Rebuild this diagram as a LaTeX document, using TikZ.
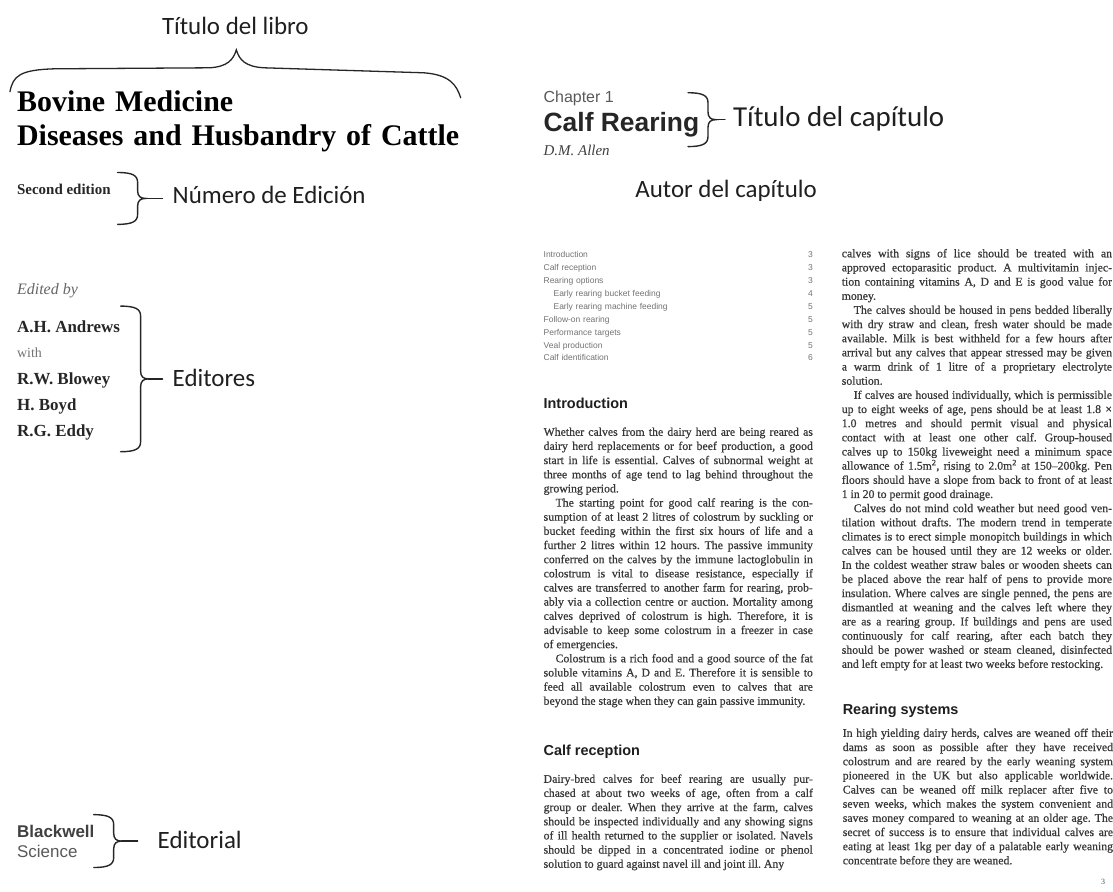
\documentclass[tikz,border=0pt]{standalone}
\usepackage{fontspec}
\setmainfont{Liberation Serif}
\setsansfont{Liberation Sans}
\newfontfamily\callfont{Carlito}
\newfontfamily\scanfont{Liberation Serif}[FakeBold=0.6]
\usetikzlibrary{calc}
\tolerance=10000
\hbadness=10000
\frenchspacing
\newcommand{\brk}{\linebreak}
% right-pointing brace: body x, top y, bottom y, name of tip
\newcommand{\sbrace}[4]{%
  \pgfmathsetmacro{\bmid}{(#2+#3)/2}
  \draw[brc] (#1-20,#2) .. controls (#1-5,#2) and (#1,#2-3) .. (#1,#2-10)
    -- (#1,\bmid+8) .. controls (#1,\bmid+2) and (#1+3,\bmid) .. (#1+8,\bmid) coordinate (#4)
    .. controls (#1+3,\bmid) and (#1,\bmid-2) .. (#1,\bmid-8)
    -- (#1,#3+10) .. controls (#1,#3+3) and (#1-5,#3) .. (#1-20,#3);}
\tikzset{
  lbl/.style={anchor=base west,inner sep=0pt,font=\callfont\fontsize{25}{30}\selectfont,text=black!88},
  brc/.style={line width=1.4pt,draw=black!85,line cap=round},
  body/.style={anchor=base west,inner sep=0pt,text width=270pt,align=justify,font=\scanfont\fontsize{11.8}{14.2}\selectfont,text=black!78},
  hd/.style={anchor=base west,inner sep=0pt,font=\sffamily\bfseries\fontsize{14.5}{17}\selectfont,text=black!88},
  nm/.style={anchor=base west,inner sep=0pt,font=\bfseries\fontsize{17}{20}\selectfont,text=black!85},
  toc/.style={anchor=base west,inner sep=0pt,text width=270pt,font=\sffamily\fontsize{8.5}{13}\selectfont,text=black!55},
}
\begin{document}
\begin{tikzpicture}[x=1pt,y=1pt]
  \path[fill=white] (0,0) rectangle (1113,-894);
  % left page: book
  \node[lbl,anchor=base] (tlib) at (236,-35) {Título del libro};
  \draw[brc,line width=1.3pt] (10,-92) .. controls (13,-76) and (20,-70) .. (55,-69) -- (210,-68)
    .. controls (228,-67) and (234,-60) .. (237,-50) coordinate (ttip)
    .. controls (240,-60) and (246,-67) .. (265,-68) -- (425,-73)
    .. controls (452,-75) and (458,-86) .. (462,-98);
  \node[anchor=base west,inner sep=0pt,text width=480pt,align=left,font=\bfseries\fontsize{30}{34}\selectfont] (book) at (17,-112)
    {Bovine Medicine\\Diseases and Husbandry of Cattle};
  \node[nm,font=\bfseries\fontsize{15}{18}\selectfont] (sed) at (17,-195) {Second edition};
  \sbrace{138}{-173}{-225}{etip}
  \node[lbl] (ned) at (173,-204) {Número de Edición};
  \draw[brc,shorten >=10pt] (etip) -- (etip -| ned.west);
  \node[anchor=base west,inner sep=0pt,font=\itshape\fontsize{16}{19}\selectfont,text=black!60] (edby) at (17,-295) {Edited by};
  \node[nm] (aha) at (17,-333) {A.H. Andrews};
  \node[anchor=base west,inner sep=0pt,font=\fontsize{14}{16}\selectfont,text=black!55] (with) at (17,-359) {with};
  \node[nm] (rwb) at (17,-386) {R.W. Blowey};
  \node[nm] (hb) at (17,-412) {H. Boyd};
  \node[nm] (rge) at (17,-438) {R.G. Eddy};
  \sbrace{141}{-307}{-453}{edtip}
  \node[lbl] (edit) at (173,-388) {Editores};
  \draw[brc,shorten >=10pt] (edtip) -- (edtip -| edit.west);
  \node[anchor=base west,inner sep=0pt,font=\sffamily\bfseries\fontsize{17}{20}\selectfont,text=black!75] (bw) at (17,-840) {Blackwell};
  \node[anchor=base west,inner sep=0pt,font=\sffamily\fontsize{17}{20}\selectfont,text=black!65] (sci) at (17,-860) {Science};
  \sbrace{114}{-817}{-870}{ptip}
  \node[lbl] (pub) at (158,-851) {Editorial};
  \draw[brc,shorten >=20pt] (ptip) -- (ptip -| pub.west);
  % right page: chapter
  \node[anchor=base west,inner sep=0pt,font=\sffamily\fontsize{16}{18}\selectfont,text=black!65] (chap) at (545,-103) {Chapter 1};
  \node[anchor=base west,inner sep=0pt,font=\sffamily\bfseries\fontsize{26.5}{30}\selectfont,text=black!85] (calf) at (545,-132) {Calf Rearing};
  \sbrace{710}{-93}{-147}{ctip}
  \node[lbl,font=\callfont\fontsize{29}{34}\selectfont] (tcap) at (735,-127) {Título del capítulo};
  \draw[brc,shorten >=8pt] (ctip) -- (ctip -| tcap.west);
  \node[anchor=base west,inner sep=0pt,font=\itshape\fontsize{15}{18}\selectfont,text=black!75] (auth) at (545,-156) {D.M. Allen};
  \node[lbl] (acap) at (637,-198) {Autor del capítulo};
  \node[toc] (cont) at (545,-258) {Introduction\hfill 3\\Calf reception\hfill 3\\Rearing options\hfill 3\\
    \hspace*{10pt}Early rearing bucket feeding\hfill 4\\\hspace*{10pt}Early rearing machine feeding\hfill 5\\
    Follow-on rearing\hfill 5\\Performance targets\hfill 5\\Veal production\hfill 5\\Calf identification\hfill 6};
  \node[hd] (intro) at (545,-410) {Introduction};
  \node[body] (introtx) at (545,-437) {Whether calves from the dairy herd are being reared as\brk
    dairy herd replacements or for beef production, a good\brk
    start in life is essential. Calves of subnormal weight at\brk
    three months of age tend to lag behind throughout the\brk
    growing period.\par
    \hspace*{12pt}The starting point for good calf rearing is the con-\brk
    sumption of at least 2 litres of colostrum by suckling or\brk
    bucket feeding within the first six hours of life and a\brk
    further 2 litres within 12 hours. The passive immunity\brk
    conferred on the calves by the immune lactoglobulin in\brk
    colostrum is vital to disease resistance, especially if\brk
    calves are transferred to another farm for rearing, prob-\brk
    ably via a collection centre or auction. Mortality among\brk
    calves deprived of colostrum is high. Therefore, it is\brk
    advisable to keep some colostrum in a freezer in case\brk
    of emergencies.\par
    \hspace*{12pt}Colostrum is a rich food and a good source of the fat\brk
    soluble vitamins A, D and E. Therefore it is sensible to\brk
    feed all available colostrum even to calves that are\brk
    beyond the stage when they can gain passive immunity.};
  \node[hd] (recep) at (545,-758) {Calf reception};
  \node[body] (receptx) at (545,-785) {Dairy-bred calves for beef rearing are usually pur-\brk
    chased at about two weeks of age, often from a calf\brk
    group or dealer. When they arrive at the farm, calves\brk
    should be inspected individually and any showing signs\brk
    of ill health returned to the supplier or isolated. Navels\brk
    should be dipped in a concentrated iodine or phenol\brk
    solution to guard against navel ill and joint ill. Any};
  \node[body,text width=271pt] (cont2) at (844,-258) {calves with signs of lice should be treated with an\brk
    approved ectoparasitic product. A multivitamin injec-\brk
    tion containing vitamins A, D and E is good value for\brk
    money.\par
    \hspace*{12pt}The calves should be housed in pens bedded liberally\brk
    with dry straw and clean, fresh water should be made\brk
    available. Milk is best withheld for a few hours after\brk
    arrival but any calves that appear stressed may be given\brk
    a warm drink of 1 litre of a proprietary electrolyte\brk
    solution.\par
    \hspace*{12pt}If calves are housed individually, which is permissible\brk
    up to eight weeks of age, pens should be at least 1.8 ×\brk
    1.0 metres and should permit visual and physical\brk
    contact with at least one other calf. Group-housed\brk
    calves up to 150kg liveweight need a minimum space\brk
    allowance of 1.5m\textsuperscript{2}, rising to 2.0m\textsuperscript{2} at 150–200kg. Pen\brk
    floors should have a slope from back to front of at least\brk
    1 in 20 to permit good drainage.\par
    \hspace*{12pt}Calves do not mind cold weather but need good ven-\brk
    tilation without drafts. The modern trend in temperate\brk
    climates is to erect simple monopitch buildings in which\brk
    calves can be housed until they are 12 weeks or older.\brk
    In the coldest weather straw bales or wooden sheets can\brk
    be placed above the rear half of pens to provide more\brk
    insulation. Where calves are single penned, the pens are\brk
    dismantled at weaning and the calves left where they\brk
    are as a rearing group. If buildings and pens are used\brk
    continuously for calf rearing, after each batch they\brk
    should be power washed or steam cleaned, disinfected\brk
    and left empty for at least two weeks before restocking.};
  \node[hd] (rsys) at (845,-717) {Rearing systems};
  \node[body,text width=271pt] (rsystx) at (845,-739) {In high yielding dairy herds, calves are weaned off their\brk
    dams as soon as possible after they have received\brk
    colostrum and are reared by the early weaning system\brk
    pioneered in the UK but also applicable worldwide.\brk
    Calves can be weaned off milk replacer after five to\brk
    seven weeks, which makes the system convenient and\brk
    saves money compared to weaning at an older age. The\brk
    secret of success is to ensure that individual calves are\brk
    eating at least 1kg per day of a palatable early weaning\brk
    concentrate before they are weaned.};
  \node[anchor=base west,inner sep=0pt,font=\fontsize{8}{10}\selectfont,text=black!70] (pgno) at (1104,-887) {3};
\end{tikzpicture}
\end{document}
